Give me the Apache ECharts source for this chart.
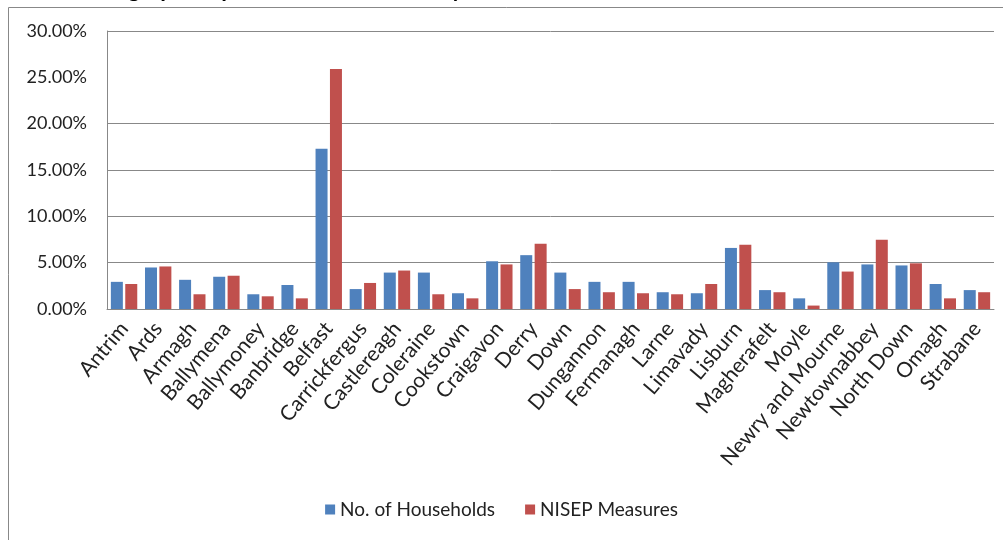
<!DOCTYPE html>
<html>
<head>
<meta charset="utf-8">
<script src="https://cdn.jsdelivr.net/npm/echarts@6/dist/echarts.min.js"></script>
<style>
html,body{margin:0;padding:0;background:#fff;}
#chart{width:1003px;height:540px;}
</style>
</head>
<body>
<div id="chart"></div>
<script>
var categories = ["Antrim","Ards","Armagh","Ballymena","Ballymoney","Banbridge","Belfast","Carrickfergus","Castlereagh","Coleraine","Cookstown","Craigavon","Derry","Down","Dungannon","Fermanagh","Larne","Limavady","Lisburn","Magherafelt","Moyle","Newry and Mourne","Newtownabbey","North Down","Omagh","Strabane"];
var households = [2.93,4.48,3.15,3.48,1.59,2.59,17.3,2.15,3.93,3.93,1.70,5.15,5.81,3.93,2.93,2.93,1.81,1.70,6.59,2.04,1.15,5.04,4.81,4.70,2.70,2.04];
var nisep = [2.70,4.59,1.59,3.59,1.37,1.15,25.9,2.81,4.15,1.59,1.15,4.81,7.04,2.15,1.81,1.70,1.59,2.70,6.93,1.81,0.37,4.04,7.48,4.93,1.15,1.81];
var seriesNames = ["No. of Households","NISEP Measures"];
var titleText = "Geographic Spread of Households by Council";

var chart = echarts.init(document.getElementById('chart'));
var font = "Lato, 'Open Sans', sans-serif";
var grid = '#888888';
chart.setOption({
  animation:false,
  graphic:[
    {type:'rect', shape:{x:8.5,y:7.5,width:1010,height:560}, style:{fill:'none',stroke:grid,lineWidth:1}, z:-1},
    {type:'text', left:86, top:-22, style:{text:titleText, font:"bold 23px "+font, fill:'#000'}}
  ],
  grid:{left:107,right:9,top:31,bottom:231},
  legend:{
    data:seriesNames, bottom:16, left:'center', itemWidth:10, itemHeight:10, itemGap:30,
    icon:'rect', textStyle:{fontFamily:font,fontSize:19,color:'#222'}
  },
  xAxis:{
    type:'category', data:categories,
    axisLine:{lineStyle:{color:grid}}, axisTick:{show:false},
    axisLabel:{rotate:50, interval:0, fontFamily:font, fontSize:21, color:'#222', margin:16}
  },
  yAxis:{
    type:'value', min:0, max:30, interval:5,
    axisLine:{show:true, lineStyle:{color:grid}}, axisTick:{show:false},
    axisLabel:{formatter:function(v){return v.toFixed(2)+'%';}, fontFamily:font, fontSize:18, color:'#222', margin:20},
    splitLine:{lineStyle:{color:[grid,grid,grid,grid,grid,'rgba(0,0,0,0)',grid], width:1}}
  },
  series:[
    {name:seriesNames[0], type:'bar', data:households, barWidth:12, barGap:'20%', itemStyle:{color:'#4F81BD'}},
    {name:seriesNames[1], type:'bar', data:nisep, barWidth:12, itemStyle:{color:'#C0504D'}}
  ]
});
</script>
</body>
</html>
